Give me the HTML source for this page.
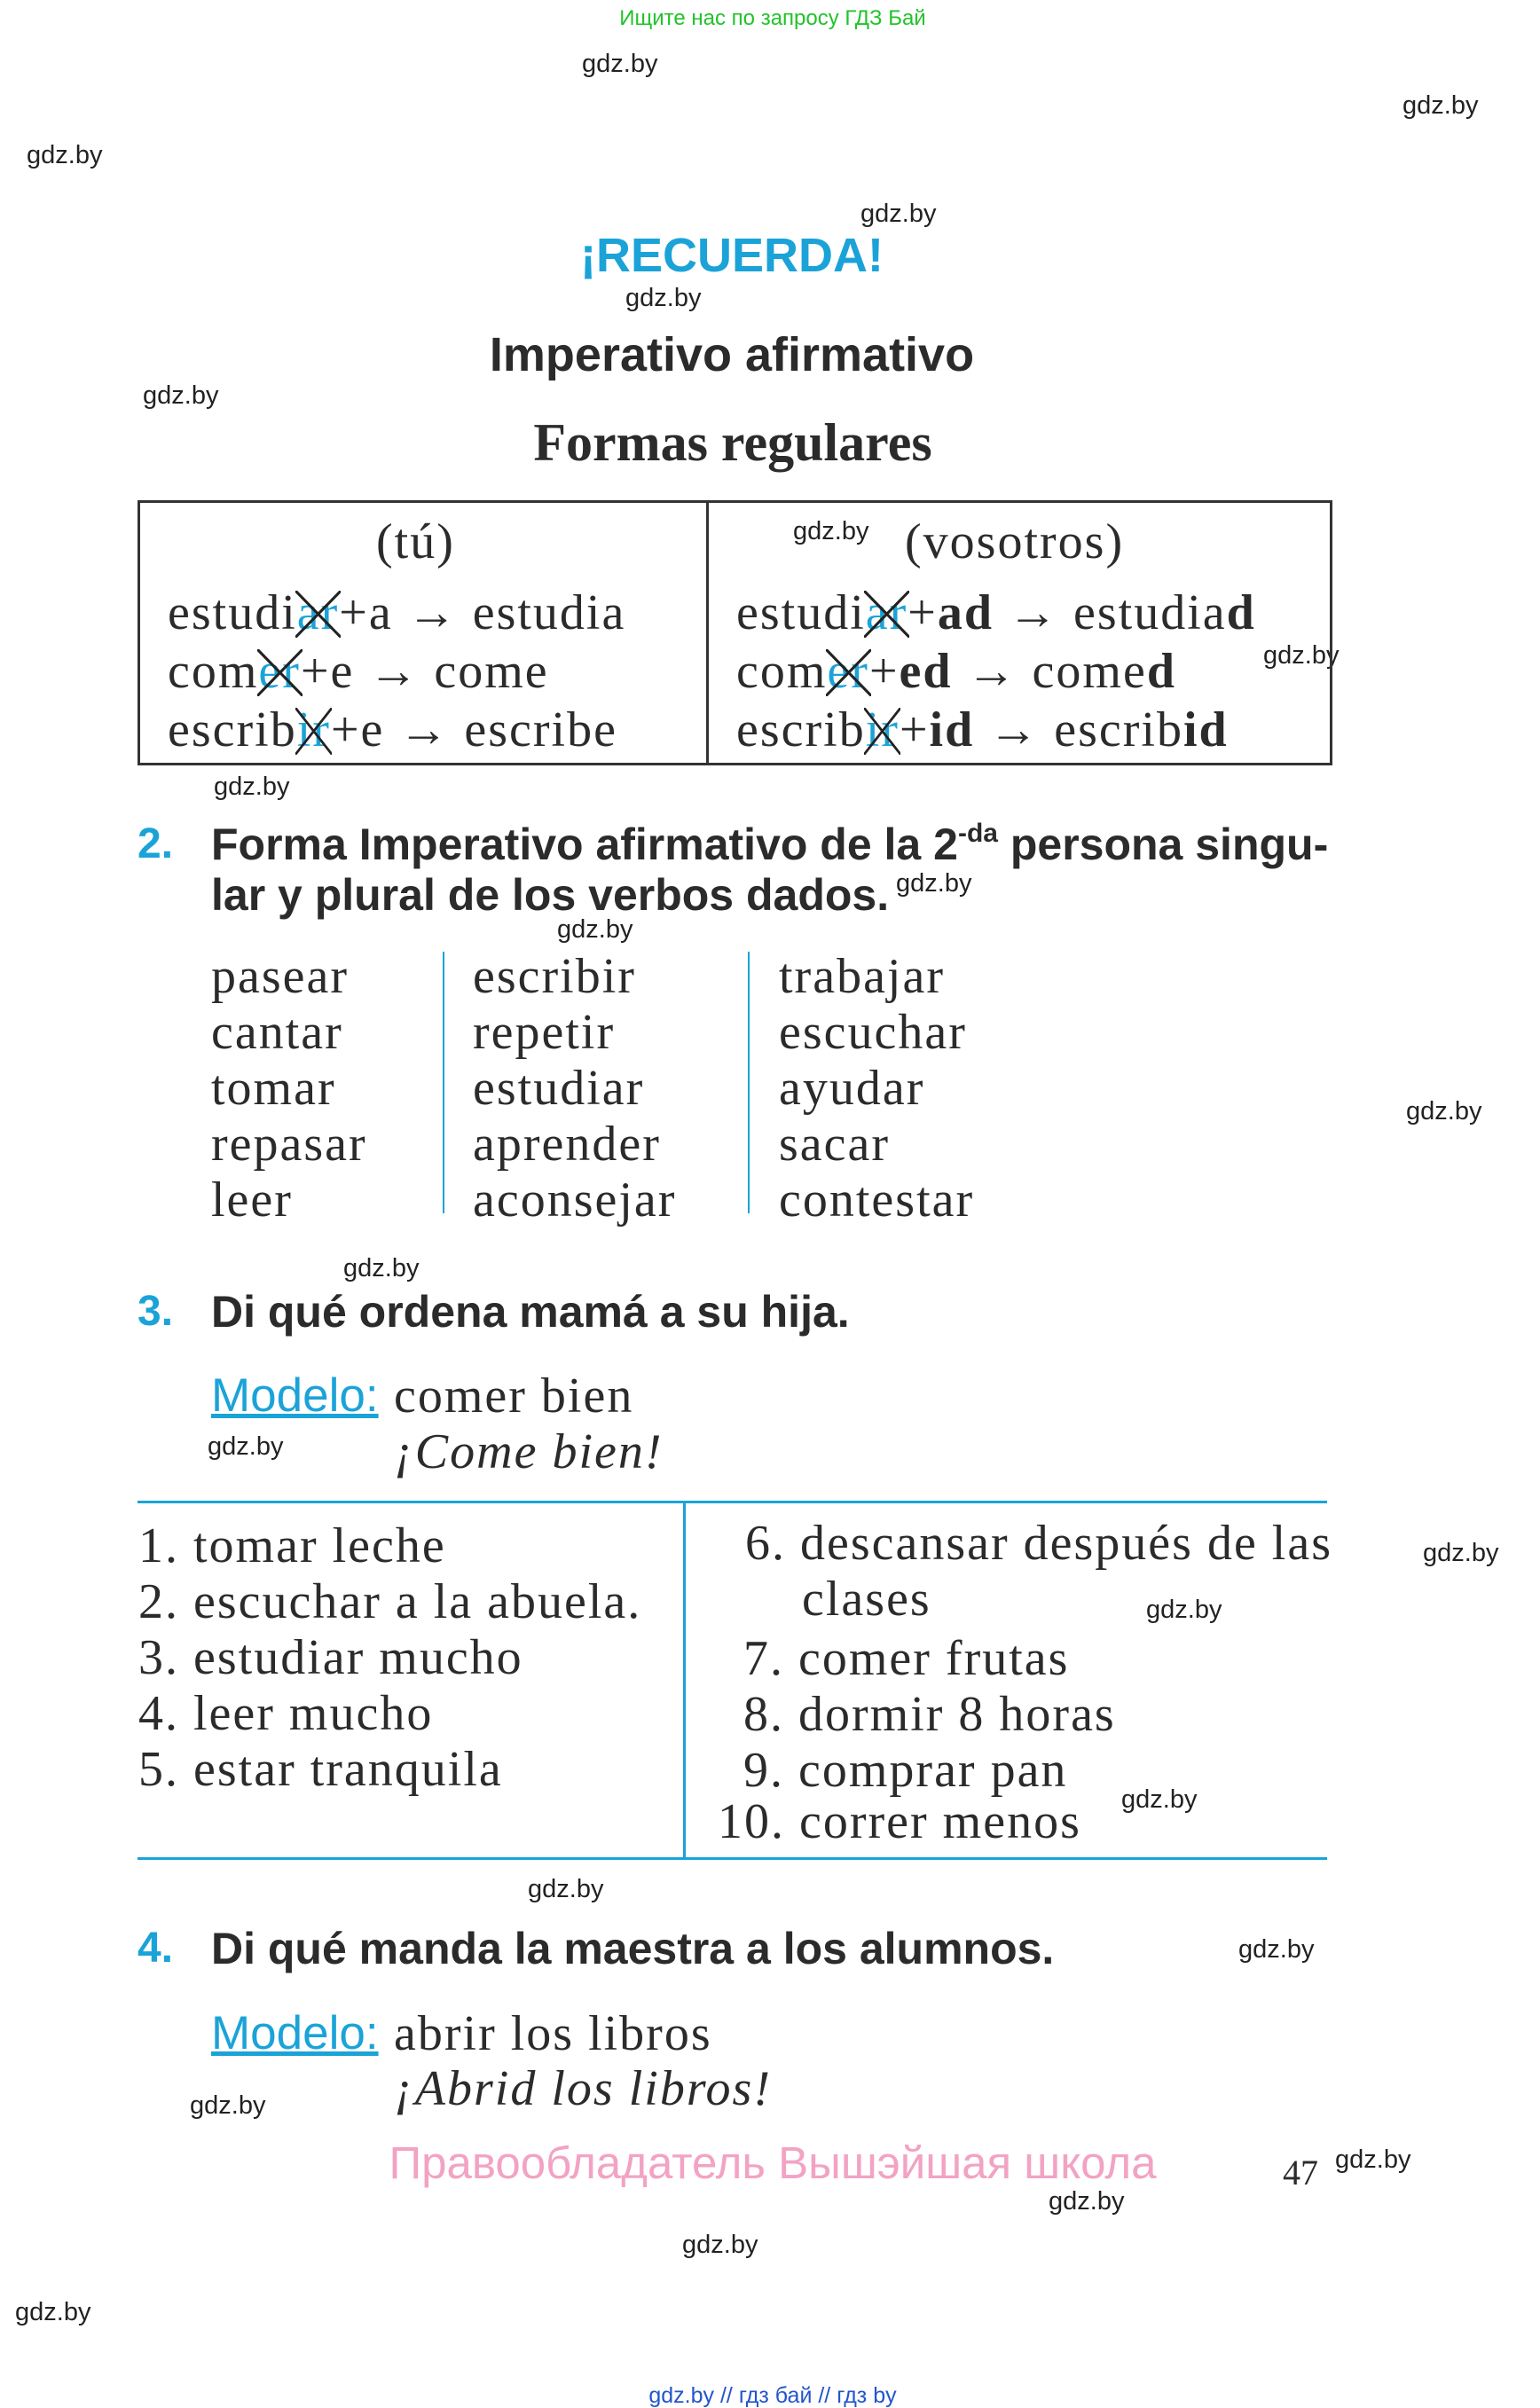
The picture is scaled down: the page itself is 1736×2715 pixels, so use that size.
<!DOCTYPE html>
<html><head><meta charset="utf-8"><style>
body{margin:0;width:1736px;height:2709px;position:relative;background:#fff;overflow:hidden;color:#2b2b2b}
.a{position:absolute;white-space:nowrap}
.s{font-family:"Liberation Sans",sans-serif}
.r{font-family:"Liberation Serif",serif}
.w{font-family:"Liberation Sans",sans-serif;font-size:29px;line-height:29px;color:#222}
.c{color:#1ba3d8}
.x{position:relative;color:#1ba3d8;font-weight:normal}
.x svg{position:absolute;left:-4%;top:10%;width:108%;height:85%}
.v{font-size:56px;line-height:56px;letter-spacing:2px}
.h{font-size:50px;line-height:50px;font-weight:bold}
.n{font-size:48px;line-height:48px;font-weight:bold;color:#1ba3d8}
.sp{font-size:30px;line-height:0;vertical-align:20px}
</style></head><body>
<div class="a s" style="left:0;width:1742px;text-align:center;top:9px;font-size:24px;line-height:24px;color:#22c32a">Ищите нас по запросу ГДЗ Бай</div>

<div class="a w" style="left:656px;top:58px">gdz.by</div>
<div class="a w" style="left:1581px;top:105px">gdz.by</div>
<div class="a w" style="left:30px;top:161px">gdz.by</div>
<div class="a w" style="left:970px;top:227px">gdz.by</div>
<div class="a w" style="left:705px;top:322px">gdz.by</div>
<div class="a w" style="left:161px;top:432px">gdz.by</div>
<div class="a w" style="left:894px;top:585px">gdz.by</div>
<div class="a w" style="left:1424px;top:725px">gdz.by</div>
<div class="a w" style="left:241px;top:873px">gdz.by</div>
<div class="a w" style="left:1010px;top:982px">gdz.by</div>
<div class="a w" style="left:628px;top:1034px">gdz.by</div>
<div class="a w" style="left:1585px;top:1239px">gdz.by</div>
<div class="a w" style="left:387px;top:1416px">gdz.by</div>
<div class="a w" style="left:234px;top:1617px">gdz.by</div>
<div class="a w" style="left:1604px;top:1737px">gdz.by</div>
<div class="a w" style="left:1292px;top:1801px">gdz.by</div>
<div class="a w" style="left:1264px;top:2015px">gdz.by</div>
<div class="a w" style="left:595px;top:2116px">gdz.by</div>
<div class="a w" style="left:1396px;top:2184px">gdz.by</div>
<div class="a w" style="left:214px;top:2360px">gdz.by</div>
<div class="a w" style="left:1505px;top:2421px">gdz.by</div>
<div class="a w" style="left:1182px;top:2468px">gdz.by</div>
<div class="a w" style="left:769px;top:2517px">gdz.by</div>
<div class="a w" style="left:17px;top:2593px">gdz.by</div>

<div class="a s c" style="left:0;width:1650px;text-align:center;top:260px;font-size:54px;line-height:56px;font-weight:bold">¡RECUERDA!</div>
<div class="a s" style="left:0;width:1650px;text-align:center;top:372px;font-size:54px;line-height:56px;font-weight:bold">Imperativo afirmativo</div>
<div class="a r" style="left:0;width:1652px;text-align:center;top:469px;font-size:60px;line-height:60px;font-weight:bold">Formas regulares</div>

<div class="a" style="left:155px;top:564px;width:1341px;height:293px;border:3px solid #333"></div>
<div class="a" style="left:796px;top:564px;width:3px;height:299px;background:#333"></div>
<div class="a r v" style="left:424px;top:583px">(tú)</div>
<div class="a r v" style="left:1020px;top:583px">(vosotros)</div>

<div class="a r v" style="left:189px;top:663px">estudi<span class="x">ar<svg viewBox="0 0 10 10" preserveAspectRatio="none"><line x1="0" y1="0" x2="10" y2="10" stroke="#222" stroke-width=".6"/><line x1="10" y1="0" x2="0" y2="10" stroke="#222" stroke-width=".6"/></svg></span>+a → estudia</div>
<div class="a r v" style="left:189px;top:729px">com<span class="x">er<svg viewBox="0 0 10 10" preserveAspectRatio="none"><line x1="0" y1="0" x2="10" y2="10" stroke="#222" stroke-width=".6"/><line x1="10" y1="0" x2="0" y2="10" stroke="#222" stroke-width=".6"/></svg></span>+e → come</div>
<div class="a r v" style="left:189px;top:795px">escrib<span class="x">ir<svg viewBox="0 0 10 10" preserveAspectRatio="none"><line x1="0" y1="0" x2="10" y2="10" stroke="#222" stroke-width=".6"/><line x1="10" y1="0" x2="0" y2="10" stroke="#222" stroke-width=".6"/></svg></span>+e → escribe</div>
<div class="a r v" style="left:830px;top:663px">estudi<span class="x">ar<svg viewBox="0 0 10 10" preserveAspectRatio="none"><line x1="0" y1="0" x2="10" y2="10" stroke="#222" stroke-width=".6"/><line x1="10" y1="0" x2="0" y2="10" stroke="#222" stroke-width=".6"/></svg></span>+<b>ad</b> → estudia<b>d</b></div>
<div class="a r v" style="left:830px;top:729px">com<span class="x">er<svg viewBox="0 0 10 10" preserveAspectRatio="none"><line x1="0" y1="0" x2="10" y2="10" stroke="#222" stroke-width=".6"/><line x1="10" y1="0" x2="0" y2="10" stroke="#222" stroke-width=".6"/></svg></span>+<b>ed</b> → come<b>d</b></div>
<div class="a r v" style="left:830px;top:795px">escrib<span class="x">ir<svg viewBox="0 0 10 10" preserveAspectRatio="none"><line x1="0" y1="0" x2="10" y2="10" stroke="#222" stroke-width=".6"/><line x1="10" y1="0" x2="0" y2="10" stroke="#222" stroke-width=".6"/></svg></span>+<b>id</b> → escrib<b>id</b></div>

<div class="a s n" style="left:155px;top:928px">2.</div>
<div class="a s h" style="left:238px;top:927px">Forma Imperativo afirmativo de la 2<span class="sp">-da</span> persona singu-</div>
<div class="a s h" style="left:238px;top:984px">lar y plural de los verbos dados.</div>

<div class="a" style="left:499px;top:1073px;width:2px;height:295px;background:#1ba3d8"></div>
<div class="a" style="left:843px;top:1073px;width:2px;height:295px;background:#1ba3d8"></div>
<div class="a r v" style="left:238px;top:1070px;line-height:63px">pasear<br>cantar<br>tomar<br>repasar<br>leer</div>
<div class="a r v" style="left:533px;top:1070px;line-height:63px">escribir<br>repetir<br>estudiar<br>aprender<br>aconsejar</div>
<div class="a r v" style="left:878px;top:1070px;line-height:63px">trabajar<br>escuchar<br>ayudar<br>sacar<br>contestar</div>

<div class="a s n" style="left:155px;top:1455px">3.</div>
<div class="a s h" style="left:238px;top:1454px">Di qué ordena mamá a su hija.</div>
<div class="a s c" style="left:238px;top:1547px;font-size:53px;line-height:53px;text-decoration:underline">Modelo:</div>
<div class="a r v" style="left:444px;top:1546px">comer bien</div>
<div class="a r v" style="left:444px;top:1609px;font-style:italic">¡Come bien!</div>

<div class="a" style="left:155px;top:1692px;width:1341px;height:3px;background:#1ba3d8"></div>
<div class="a" style="left:155px;top:2094px;width:1341px;height:3px;background:#1ba3d8"></div>
<div class="a" style="left:770px;top:1692px;width:3px;height:405px;background:#1ba3d8"></div>
<div class="a r v" style="left:156px;top:1712px;line-height:63px">1. tomar leche<br>2. escuchar a la abuela.<br>3. estudiar mucho<br>4. leer mucho<br>5. estar tranquila</div>
<div class="a r v" style="left:840px;top:1712px">6. descansar después de las</div>
<div class="a r v" style="left:904px;top:1775px">clases</div>
<div class="a r v" style="left:838px;top:1839px;line-height:63px">7. comer frutas<br>8. dormir 8 horas<br>9. comprar pan</div>
<div class="a r v" style="left:809px;top:2026px">10. correr menos</div>

<div class="a s n" style="left:155px;top:2173px">4.</div>
<div class="a s h" style="left:238px;top:2172px">Di qué manda la maestra a los alumnos.</div>
<div class="a s c" style="left:238px;top:2266px;font-size:53px;line-height:53px;text-decoration:underline">Modelo:</div>
<div class="a r v" style="left:444px;top:2265px">abrir los libros</div>
<div class="a r v" style="left:444px;top:2327px;font-style:italic">¡Abrid los libros!</div>

<div class="a s" style="left:0;width:1742px;text-align:center;top:2413px;font-size:51px;line-height:52px;color:#f2a3c4">Правообладатель Вышэйшая школа</div>
<div class="a r" style="left:1446px;top:2430px;font-size:40px;line-height:40px">47</div>
<div class="a s" style="left:0;width:1742px;text-align:center;top:2688px;font-size:25px;line-height:26px;color:#2255cc">gdz.by // гдз бай // гдз by</div>
</body></html>
